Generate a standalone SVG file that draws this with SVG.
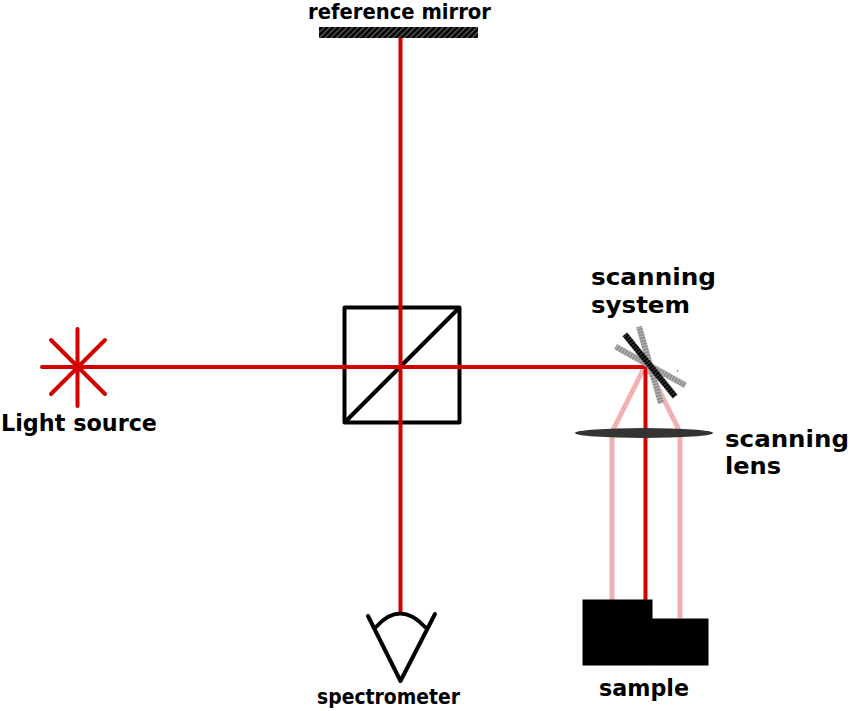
<svg xmlns="http://www.w3.org/2000/svg" width="850" height="711" viewBox="0 0 850 711">
<style>
.t{font-family:"DejaVu Sans",Verdana,sans-serif;font-weight:bold;font-size:23px;fill:#000}
.s{font-size:21px}
.r{stroke:#d40000;stroke-width:4;fill:none;stroke-linecap:round}
.b{stroke:#d40000;stroke-width:4;fill:none}
.p{stroke:#f2b0b0;stroke-width:5;fill:none}
.k{stroke:#000;stroke-width:4;fill:none;stroke-linejoin:round}
</style>
<defs>
<pattern id="h" width="4" height="4" patternUnits="userSpaceOnUse" patternTransform="rotate(45)">
<rect width="4" height="4" fill="#000"/><rect width="1.200" height="4" fill="#666"/>
</pattern>
<pattern id="g" width="6" height="3" patternUnits="userSpaceOnUse">
<rect width="6" height="3" fill="#8f8f8f"/><rect width="6" height="1" fill="#bdbdbd"/>
</pattern>
<pattern id="d" width="6" height="3" patternUnits="userSpaceOnUse">
<rect width="6" height="3" fill="#000"/><rect width="6" height="0.800" fill="#555"/>
</pattern>
</defs>
<rect width="850" height="711" fill="#fff"/>
<g id="beam-splitter">
<rect x="344.500" y="307.500" width="115" height="115" class="k"/>
<path class="k" d="M344.500 422.500L459.500 307.500"/>
</g>
<g id="connectors">
<path class="p" d="M612 600V432L643 370M680 618V432L649 370"/>
<path class="b" d="M400.500 38V612M78 367H645.500V600"/>
</g>
<g id="reference-mirror">
<rect x="319" y="27" width="159" height="11" fill="url(#h)"/>
<text class="t s" x="308" y="19" textLength="183" lengthAdjust="spacingAndGlyphs">reference mirror</text>
</g>
<g id="light-source">
<path class="r" d="M77.500 329V406M42 367H78M51 340L105 394M51 394L105 340"/>
<text class="t" x="1" y="431" textLength="156" lengthAdjust="spacingAndGlyphs">Light source</text>
</g>
<g id="scanning-system">
<rect x="-3" y="-40" width="6" height="80" fill="url(#g)" transform="translate(650 365) rotate(-16)"/>
<rect x="-3" y="-40" width="6" height="80" fill="url(#g)" transform="translate(650.500 366) rotate(-61)"/>
<rect x="-3" y="-40" width="6" height="80" fill="url(#d)" transform="translate(650 365.500) rotate(-39)"/>
<circle cx="677.500" cy="371" r="0.700" fill="#444"/>
<text class="t" x="591" y="285" textLength="125" lengthAdjust="spacingAndGlyphs">scanning</text>
<text class="t" x="591" y="313" textLength="99" lengthAdjust="spacingAndGlyphs">system</text>
</g>
<g id="scanning-lens">
<ellipse cx="644" cy="433" rx="69" ry="5" fill="#333"/>
<text class="t" x="725" y="447" textLength="124" lengthAdjust="spacingAndGlyphs">scanning</text>
<text class="t" x="725" y="474" textLength="56" lengthAdjust="spacingAndGlyphs">lens</text>
</g>
<g id="spectrometer">
<path class="k" stroke-linecap="round" d="M368 616L400.500 681L435 614M376 627Q400 600 425 627"/>
<text class="t s" x="317" y="704" textLength="143" lengthAdjust="spacingAndGlyphs">spectrometer</text>
</g>
<g id="sample">
<rect x="582.500" y="599.500" width="70" height="66"/>
<rect x="652" y="618.500" width="56.500" height="47"/>
<text class="t" x="599" y="696" textLength="90" lengthAdjust="spacingAndGlyphs">sample</text>
</g>
</svg>
